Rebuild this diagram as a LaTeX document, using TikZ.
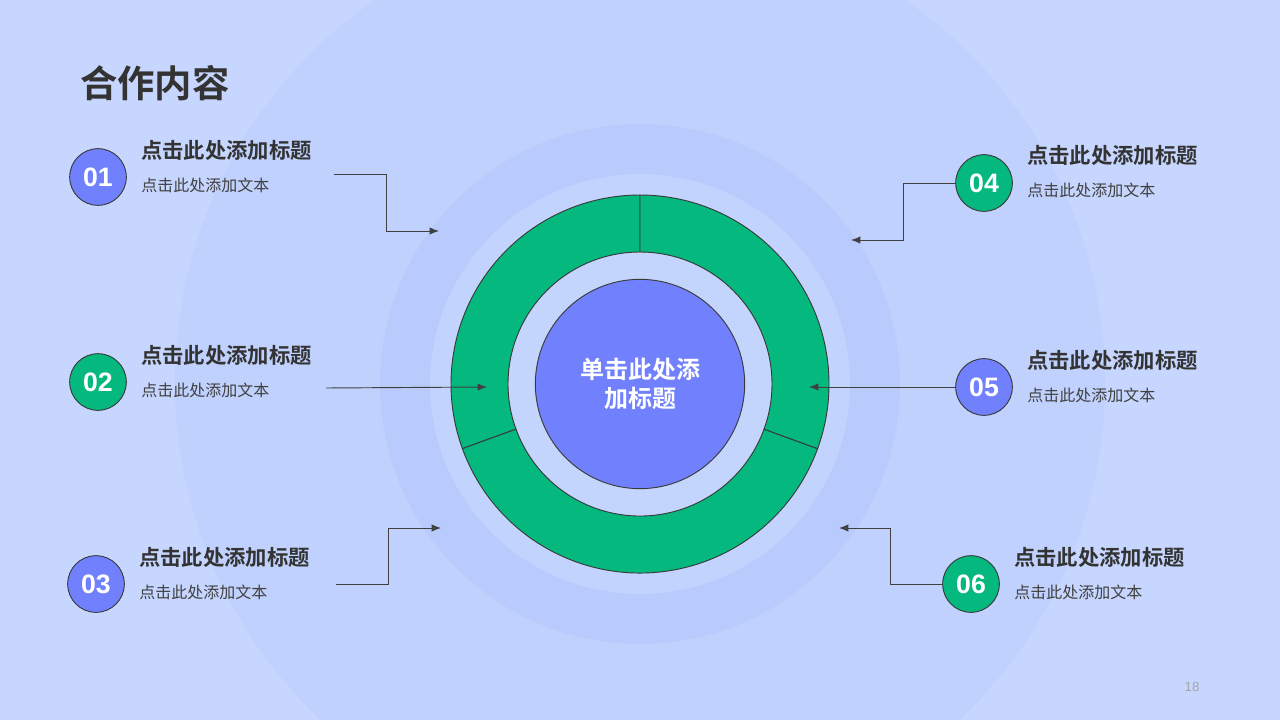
\documentclass[tikz,border=0pt]{standalone}
\usepackage{fontspec}
\usepackage{tikz}
\usetikzlibrary{arrows.meta,positioning,calc}
\newfontfamily\cjk{Noto Sans CJK SC}[BoldFont={Noto Sans CJK SC Bold}]
\newfontfamily\numfont{Liberation Sans}
\definecolor{pagebg}{HTML}{C6D6FE}
\definecolor{haloone}{HTML}{C0D1FD}
\definecolor{halotwo}{HTML}{B9CAFC}
\definecolor{halothree}{HTML}{C2D3FD}
\definecolor{gapfill}{HTML}{C3D4FD}
\definecolor{ringgreen}{HTML}{05B87E}
\definecolor{coreblue}{HTML}{7181FE}
\definecolor{inkdark}{HTML}{333333}
\definecolor{inksoft}{HTML}{404040}
\definecolor{edge}{HTML}{3A3A3A}

\begin{document}
\begin{tikzpicture}[
  x=0.75pt,y=0.75pt,
  badge/.style={circle,draw=edge,line width=0.7pt,minimum size=42.5pt,inner sep=0pt,text=white,font=\numfont\fontsize{20}{22}\selectfont\bfseries},
  bluebadge/.style={badge,fill=coreblue},
  greenbadge/.style={badge,fill=ringgreen},
  headtext/.style={anchor=west,inner sep=0pt,text=inkdark,font=\cjk\fontsize{16}{18}\selectfont\bfseries},
  subtext/.style={anchor=west,inner sep=0pt,text=inksoft,font=\cjk\fontsize{12}{14}\selectfont},
  seg/.style={fill=ringgreen,draw=edge,line width=0.7pt},
  arr/.style={-{Latex[length=7pt,width=5.5pt]},line width=0.7pt,color=inksoft}
]
\useasboundingbox (0,0) rectangle (1280,-720);
\fill[pagebg] (0,0) rectangle (1280,-720);
\begin{scope}
  \clip (0,0) rectangle (1280,-720);
  \fill[haloone] (640,-382) circle[radius=465];
\end{scope}
\fill[halotwo] (640,-384) circle[radius=260];
\fill[halothree] (640,-384) circle[radius=210];

% ring
\begin{scope}[shift={(640,-384)}]
  \fill[gapfill] (0,0) circle[radius=132];
  \draw[seg] (90:189) arc[start angle=90,end angle=200,radius=189] -- (200:132) arc[start angle=200,end angle=90,radius=132] -- cycle;
  \draw[seg] (200:189) arc[start angle=200,end angle=340,radius=189] -- (340:132) arc[start angle=340,end angle=200,radius=132] -- cycle;
  \draw[seg] (340:189) arc[start angle=340,end angle=450,radius=189] -- (450:132) arc[start angle=450,end angle=340,radius=132] -- cycle;
\end{scope}
\node[circle,fill=coreblue,draw=edge,line width=0.7pt,minimum size=157pt,inner sep=0pt,align=center,text=white,font=\cjk\fontsize{18}{22}\selectfont\bfseries] (core) at (640,-384) {单击此处添\\加标题};

% heading
\node[anchor=west,inner sep=0pt,text=inkdark,font=\cjk\fontsize{28}{30}\selectfont\bfseries] (title) at (80,-83) {合作内容};

% left items
\node[bluebadge] (n1) at (98,-177) {01};
\node[headtext] (t1) at (141,-150) {点击此处添加标题};
\node[subtext] (s1) at (141,-185) {点击此处添加文本};
\node[greenbadge] (n2) at (98,-382) {02};
\node[headtext] (t2) at (141,-355) {点击此处添加标题};
\node[subtext] (s2) at (141,-390) {点击此处添加文本};
\node[bluebadge] (n3) at (96,-584) {03};
\node[headtext] (t3) at (139,-557) {点击此处添加标题};
\node[subtext] (s3) at (139,-592) {点击此处添加文本};

% right items
\node[greenbadge] (n4) at (984,-183) {04};
\node[headtext] (t4) at (1027,-155) {点击此处添加标题};
\node[subtext] (s4) at (1027,-190) {点击此处添加文本};
\node[bluebadge] (n5) at (984,-387) {05};
\node[headtext] (t5) at (1027,-360) {点击此处添加标题};
\node[subtext] (s5) at (1027,-395) {点击此处添加文本};
\node[greenbadge] (n6) at (971,-584) {06};
\node[headtext] (t6) at (1014,-557) {点击此处添加标题};
\node[subtext] (s6) at (1014,-592) {点击此处添加文本};

\node[inner sep=0pt,text=gray!70,font=\numfont\fontsize{10}{12}\selectfont] (pagenum) at (1192,-687) {18};

% connectors
\coordinate (a1) at (334,-174);
\coordinate (e1) at (439,-231);
\coordinate (a2) at (326,-388);
\coordinate (e2) at (487,-387);
\coordinate (a3) at (336,-584);
\coordinate (e3) at (441,-528);
\coordinate (e4) at (851,-240);
\coordinate (e5) at (809,-387);
\coordinate (e6) at (839,-528);
\draw[arr] (a1) -| ($(a1)!.5!(e1)$) |- (e1);
\draw[arr] (a2) -- (e2);
\draw[arr] (a3) -| ($(a3)!.5!(e3)$) |- (e3);
\draw[arr] (n4.west) -| ($(n4.west)!.5!(e4)$) |- (e4);
\draw[arr] (n5.west) -- (e5);
\draw[arr] (n6.west) -| ($(n6.west)!.5!(e6)$) |- (e6);
\end{tikzpicture}
\end{document}
